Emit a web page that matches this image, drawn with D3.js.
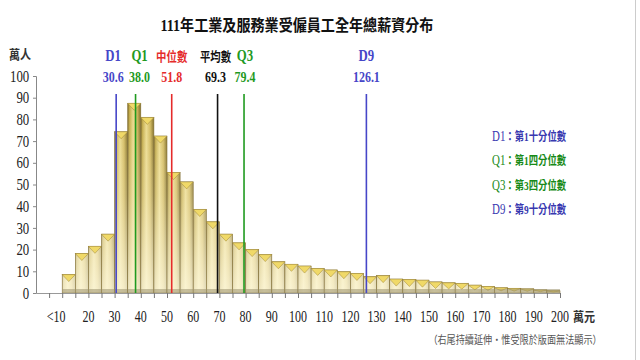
<!DOCTYPE html>
<html>
<head>
<meta charset="utf-8">
<script src="https://cdn.jsdelivr.net/npm/d3@7"></script>
<style>
	body { margin: 0; background: #fff; }
	svg { display: block; }
	text { font-family: "Liberation Serif", "Noto Sans CJK TC", serif; }
</style>
</head>
<body>
<svg width="640" height="360"></svg>
<script>
var titleText = "111年工業及服務業受僱員工全年總薪資分布";

// lower bound of each 5-unit bin (萬元)
var binStarts = d3.range(10, 200, 5);
// employees per bin (萬人)
var binValues = [8.5, 18.2, 21.5, 27.1, 74.3, 87.4, 80.9, 72.3, 55.5, 51.2,
	38.5, 32.8, 27.1, 23.1, 20.0, 17.7, 14.4, 13.2, 12.4, 11.3,
	10.6, 9.8, 9.0, 7.5, 8.0, 6.4, 6.2, 5.9, 5.1, 4.7,
	4.4, 3.6, 3.0, 2.4, 2.1, 1.9, 1.4, 1.0];

var xTickValues = d3.range(10, 201, 10);
var xTickLabels = ["<10", "20", "30", "40", "50", "60", "70", "80", "90", "100",
	"110", "120", "130", "140", "150", "160", "170", "180", "190", "200"];
var yTickValues = d3.range(0, 101, 10);

var markerNames = ["D1", "Q1", "中位數", "平均數", "Q3", "D9"];
var markerValues = [30.6, 38.0, 51.8, 69.3, 79.4, 126.1];
var markerColors = ["#4646c8", "#1f9a1f", "#e52b2b", "#111111", "#1f9a1f", "#4646c8"];

var legendKeys = ["D1", "Q1", "Q3", "D9"];
var legendTexts = ["第1十分位數", "第1四分位數", "第3四分位數", "第9十分位數"];
var legendColors = ["#3838b0", "#178a17", "#178a17", "#3838b0"];

var svg = d3.select("svg");

var x = d3.scaleLinear().domain([0, 200]).range([36, 560]);
var y = d3.scaleLinear().domain([0, 100]).range([293, 76]);

// the source picture is squeezed horizontally, so text gets narrowed too
function squeeze(px, py, k){
	return "translate(" + px + "," + py + ") scale(" + k + ",1)";
}

var defs = svg.append("defs");

var gradH = defs.append("linearGradient").attr("id", "barH")
	.attr("x1", 0).attr("x2", 1).attr("y1", 0).attr("y2", 0);
[["0%", "#76621c"], ["14%", "#c2a945"], ["42%", "#ead98a"], ["72%", "#cfb658"], ["100%", "#7a661c"]]
	.forEach(function(s){ gradH.append("stop").attr("offset", s[0]).attr("stop-color", s[1]); });

var gradV = defs.append("linearGradient").attr("id", "barV")
	.attr("gradientUnits", "userSpaceOnUse")
	.attr("x1", 0).attr("x2", 0).attr("y1", y(90)).attr("y2", y(0));
[["0%", "#fffbe6", 0], ["50%", "#fffbe6", 0.3], ["100%", "#fffbe6", 0.8]]
	.forEach(function(s){ gradV.append("stop").attr("offset", s[0]).attr("stop-color", s[1]).attr("stop-opacity", s[2]); });

// title
svg.append("text")
	.attr("transform", squeeze(297, 31, 0.88))
	.attr("text-anchor", "middle")
	.attr("font-size", 16).attr("font-weight", "bold")
	.attr("fill", "#111")
	.text(titleText);

// y axis
var yAxis = svg.append("g")
	.attr("transform", "translate(" + x(0) + ",0)")
	.call(d3.axisLeft(y).tickValues(yTickValues).tickSize(3).tickSizeOuter(3));
yAxis.select(".domain").attr("stroke", "#888");
yAxis.selectAll(".tick line").attr("stroke", "#888");
yAxis.selectAll("text")
	.attr("x", -8.5)
	.attr("transform", "scale(0.8,1)")
	.attr("font-size", 16).attr("fill", "#222")
	.attr("font-family", "Liberation Serif");

svg.append("text")
	.attr("transform", squeeze(20, 59, 0.85))
	.attr("text-anchor", "middle")
	.attr("font-size", 13).attr("font-weight", "bold").attr("fill", "#333")
	.text("萬人");

// bars
var bw = x(5) - x(0);
var bars = svg.append("g").attr("id", "bars")
	.selectAll("g").data(binValues).enter()
	.append("g");

bars.append("rect")
	.attr("x", function(d, i){ return x(binStarts[i]); })
	.attr("y", function(d){ return y(d); })
	.attr("width", bw)
	.attr("height", function(d){ return y(0) - y(d); })
	.attr("fill", "url(#barH)");

bars.append("rect")
	.attr("x", function(d, i){ return x(binStarts[i]); })
	.attr("y", function(d){ return y(d); })
	.attr("width", bw)
	.attr("height", function(d){ return y(0) - y(d); })
	.attr("fill", "url(#barV)")
	.attr("stroke", "#85733a").attr("stroke-width", 0.6);

// bevelled top cap
bars.append("path")
	.attr("d", function(d, i){
		var x0 = x(binStarts[i]), x1 = x0 + bw, t = y(d);
		var h = Math.min(7, (y(0) - t) * 0.6);
		return "M" + x0 + "," + t + "L" + x1 + "," + t + "L" + (x0 + bw / 2) + "," + (t + h) + "Z";
	})
	.attr("fill", "#f0d968")
	.attr("stroke", "#9c8534").attr("stroke-width", 0.5);

// floor strip
bars.append("rect")
	.attr("x", function(d, i){ return x(binStarts[i]); })
	.attr("y", y(0) - 4)
	.attr("width", bw)
	.attr("height", 4)
	.attr("fill", "#9c9370").attr("opacity", 0.55);

// x axis
var xAxis = svg.append("g")
	.attr("transform", "translate(0," + y(0) + ")")
	.call(d3.axisBottom(x).tickValues(d3.range(5, 201, 5)).tickSize(5).tickSizeOuter(0).tickFormat(""));
xAxis.select(".domain").attr("stroke", "#999").attr("stroke-width", 1.2);
xAxis.selectAll(".tick line").attr("stroke", "#777");

svg.append("g").selectAll("text").data(xTickValues).enter()
	.append("text")
	.attr("transform", function(d){ return squeeze(d == 10 ? x(d) - 6 : x(d), 322, 0.75); })
	.attr("text-anchor", "middle")
	.attr("font-size", 16).attr("fill", "#222")
	.text(function(d, i){ return xTickLabels[i]; });

svg.append("text")
	.attr("transform", squeeze(573, 321, 0.85))
	.attr("font-size", 13).attr("font-weight", "bold").attr("fill", "#333")
	.text("萬元");

svg.append("text")
	.attr("transform", squeeze(515, 344, 0.83))
	.attr("text-anchor", "middle")
	.attr("font-size", 11).attr("fill", "#555")
	.text("（右尾持續延伸・惟受限於版面無法顯示）");

// marker lines and labels
var nudge = { "D1": -3, "Q1": 4, "平均數": -2, "Q3": 1 };
var markers = svg.append("g").attr("id", "markers")
	.selectAll("g").data(markerValues).enter()
	.append("g");

markers.append("line")
	.attr("x1", function(d){ return x(d); })
	.attr("x2", function(d){ return x(d); })
	.attr("y1", 94).attr("y2", y(0))
	.attr("stroke", function(d, i){ return markerColors[i]; })
	.attr("stroke-width", 1.6);

markers.append("text")
	.attr("transform", function(d, i){ return squeeze(x(d) + (nudge[markerNames[i]] || 0), 61, 0.8); })
	.attr("text-anchor", "middle")
	.attr("font-size", function(d, i){ return markerNames[i].length > 2 ? 13 : 16; })
	.attr("font-weight", "bold")
	.attr("fill", function(d, i){ return markerColors[i]; })
	.text(function(d, i){ return markerNames[i]; });

markers.append("text")
	.attr("transform", function(d, i){ return squeeze(x(d) + (nudge[markerNames[i]] || 0), 82, 0.8); })
	.attr("text-anchor", "middle")
	.attr("font-size", 15).attr("font-weight", "bold")
	.attr("fill", function(d, i){ return markerColors[i]; })
	.text(function(d){ return d.toFixed(1); });

// legend
var legend = svg.append("g").attr("id", "legend")
	.selectAll("text").data(legendKeys).enter()
	.append("text")
	.attr("transform", function(d, i){ return squeeze(492, 141 + i * 24.3, 0.78); })
	.attr("font-size", 12)
	.attr("fill", function(d, i){ return legendColors[i]; });

legend.append("tspan").attr("font-family", "Liberation Serif").attr("font-size", 14).text(function(d){ return d; });
legend.append("tspan").attr("font-weight", "bold").text(function(d, i){ return "：" + legendTexts[i]; });

// right frame edge
svg.append("line")
	.attr("x1", 635.5).attr("x2", 635.5).attr("y1", 0).attr("y2", 360)
	.attr("stroke", "#ccc");
</script>
</body>
</html>
